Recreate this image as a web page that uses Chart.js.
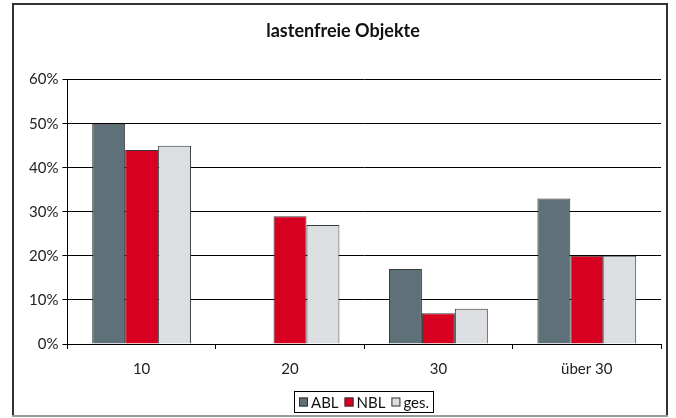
<!DOCTYPE html>
<html>
<head>
<meta charset="utf-8">
<script src="https://cdn.jsdelivr.net/npm/chart.js@4.4.0/dist/chart.umd.min.js"></script>
<style>
  html, body { margin: 0; padding: 0; background: #fff; }
  canvas { display: block; }
</style>
</head>
<body>
<canvas id="chartLastenfrei" width="676" height="418"></canvas>
<script>
// Daten
const kategorien = ['10', '20', '30', 'über 30'];
const werteABL = [50, 0, 17, 33];
const werteNBL = [44, 29, 7, 20];
const werteGes = [45, 27, 8, 20];
const yTicks = [0, 10, 20, 30, 40, 50, 60];

const schrift = "Lato, 'Liberation Sans', sans-serif";

// Rahmen um Diagramm und eigene Legende mit Kasten
const rahmenPlugin = {
    id: 'rahmen',
    afterDraw(chart) {
        const ctx = chart.ctx;
        ctx.save();
        ctx.lineWidth = 2;
        ctx.strokeStyle = '#333';
        ctx.beginPath();
        ctx.moveTo(13, 416);
        ctx.lineTo(13, 4);
        ctx.lineTo(667, 4);
        ctx.lineTo(667, 416);
        ctx.stroke();
        ctx.strokeStyle = '#999';
        ctx.beginPath();
        ctx.moveTo(12, 416);
        ctx.lineTo(668, 416);
        ctx.stroke();

        // Legende
        ctx.font = '15px ' + schrift;
        ctx.textBaseline = 'middle';
        const quadrat = 9;
        const abstandText = 3;
        const abstandItem = 6;
        const sets = chart.data.datasets;
        let breite = 0;
        sets.forEach((ds, i) => {
            breite += quadrat + abstandText + ctx.measureText(ds.label).width;
            if (i < sets.length - 1) breite += abstandItem;
        });
        const mitteX = 364.5;
        const mitteY = 402;
        let x = Math.round(mitteX - breite / 2);
        ctx.lineWidth = 1;
        ctx.strokeStyle = '#000';
        ctx.strokeRect(x - 5 + 0.5, 391.5, Math.round(breite + 9), 21);
        sets.forEach(ds => {
            ctx.fillStyle = ds.backgroundColor;
            ctx.fillRect(x, mitteY - 4.5, quadrat, quadrat);
            ctx.strokeStyle = '#333';
            ctx.strokeRect(x + 0.5, mitteY - 4.5 + 0.5, quadrat - 1, quadrat - 1);
            x += quadrat + abstandText;
            ctx.fillStyle = '#111';
            ctx.fillText(ds.label, x, mitteY + 1);
            x += ctx.measureText(ds.label).width + abstandItem;
        });
        ctx.restore();
    }
};

const ctx = document.getElementById('chartLastenfrei').getContext('2d');

new Chart(ctx, {
    type: 'bar',
    data: {
        labels: kategorien,
        datasets: [{
            label: 'ABL',
            data: werteABL,
            backgroundColor: '#5f7178',
            borderColor: '#3a3a3a',
            borderWidth: 1
        }, {
            label: 'NBL',
            data: werteNBL,
            backgroundColor: '#d80020',
            borderColor: '#3a3a3a',
            borderWidth: 1
        }, {
            label: 'ges.',
            data: werteGes,
            backgroundColor: '#dcdfe2',
            borderColor: '#3a3a3a',
            borderWidth: 1
        }]
    },
    options: {
        responsive: false,
        animation: false,
        layout: {
            padding: { left: 25, right: 15, top: 4, bottom: 29 }
        },
        datasets: {
            bar: {
                categoryPercentage: 0.666,
                barPercentage: 1
            }
        },
        scales: {
            x: {
                offset: true,
                grid: {
                    offset: true,
                    drawOnChartArea: false,
                    drawTicks: true,
                    tickLength: 5,
                    color: '#000'
                },
                border: { display: true, color: '#000' },
                ticks: {
                    color: '#222',
                    padding: 11,
                    font: { family: schrift, size: 15 }
                }
            },
            y: {
                min: 0,
                max: 60,
                afterBuildTicks: function (axis) {
                    axis.ticks = yTicks.map(v => ({ value: v }));
                },
                grid: {
                    color: '#000',
                    tickLength: 5
                },
                border: { display: true, color: '#000' },
                ticks: {
                    color: '#222',
                    padding: 4,
                    font: { family: schrift, size: 15 },
                    callback: function (value) {
                        return value + '%';
                    }
                }
            }
        },
        plugins: {
            title: {
                display: true,
                text: 'lastenfreie Objekte',
                color: '#111',
                font: { family: schrift, size: 18, weight: 'bold' },
                padding: { top: 16, bottom: 38 }
            },
            legend: { display: false },
            tooltip: { enabled: false }
        }
    },
    plugins: [rahmenPlugin]
});
</script>
</body>
</html>
